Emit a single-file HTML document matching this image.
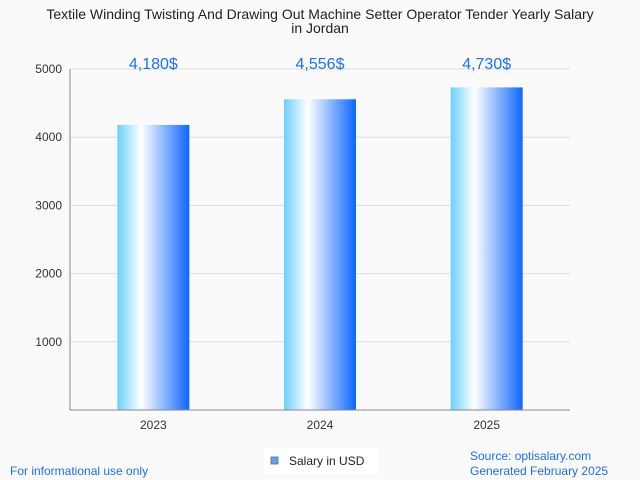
<!DOCTYPE html>
<html><head><meta charset="utf-8"><style>
body{margin:0;background:#fafafa;font-family:"Liberation Sans",sans-serif;}
svg{display:block}
</style></head><body>
<svg width="640" height="480">
<defs><linearGradient id="g" x1="0" x2="1" y1="0" y2="0">
<stop offset="0" stop-color="#6cd0ff"/><stop offset="0.33" stop-color="#ffffff"/><stop offset="1" stop-color="#0d66ff"/>
</linearGradient></defs>
<rect width="640" height="480" fill="#fafafa"/>
<text x="320" y="19" text-anchor="middle" font-size="14" fill="#222">Textile Winding Twisting And Drawing Out Machine Setter Operator Tender Yearly Salary</text>
<text x="320" y="33" text-anchor="middle" font-size="14" fill="#222">in Jordan</text>
<g id="grid"></g><g id="bars"></g>
<line x1="70" y1="69" x2="70" y2="410" stroke="#888"/>
<line x1="70" y1="410" x2="570" y2="410" stroke="#888"/>
<g>
<rect x="264" y="448" width="114" height="26" fill="#fff"/>
<rect x="271" y="457" width="7" height="7" fill="#5aa6ee" stroke="#666" stroke-width="0.8"/>
<text x="289" y="465" font-size="12" fill="#222">Salary in USD</text></g>
<text x="10" y="475" font-size="12" fill="#1a6fff">For informational use only</text>
<text x="470" y="460" font-size="12" fill="#1a6fff">Source: optisalary.com</text>
<text x="470" y="475" font-size="12" fill="#1a6fff">Generated February 2025</text>
</svg>
<script>
const categories=["2023","2024","2025"];
const values=[4180,4556,4730];
const labels=["4,180$","4,556$","4,730$"];
const ticks=[1000,2000,3000,4000,5000];
const NS="http://www.w3.org/2000/svg";
const y=v=>410-v*(341/5000);
const bw=500/categories.length;
const x=i=>70+bw*(i+0.5);
function mk(t,a,p,txt){const e=document.createElementNS(NS,t);for(const k in a)e.setAttribute(k,a[k]);if(txt)e.textContent=txt;p.appendChild(e);return e;}
const grid=document.getElementById('grid'),bars=document.getElementById('bars');
ticks.forEach(t=>{
const l=mk('line',{x1:70,x2:570,y1:y(t),y2:y(t),stroke:'#ddd'},grid);


const tx=mk('text',{x:62,y:y(t)+4,'text-anchor':'end','font-size':12,fill:'#333'},grid,String(t));


});
categories.forEach((c,i)=>{
const r=mk('rect',{x:x(i)-36,y:y(values[i]),width:72,height:410-y(values[i]),fill:'url(#g)'},bars);


const v=mk('text',{x:x(i),y:69,'text-anchor':'middle','font-size':16,fill:'#1a6fff'},bars,labels[i]);


const t=mk('text',{x:x(i),y:429,'text-anchor':'middle','font-size':12,fill:'#333'},bars,c);


});
</script>
</body></html>
